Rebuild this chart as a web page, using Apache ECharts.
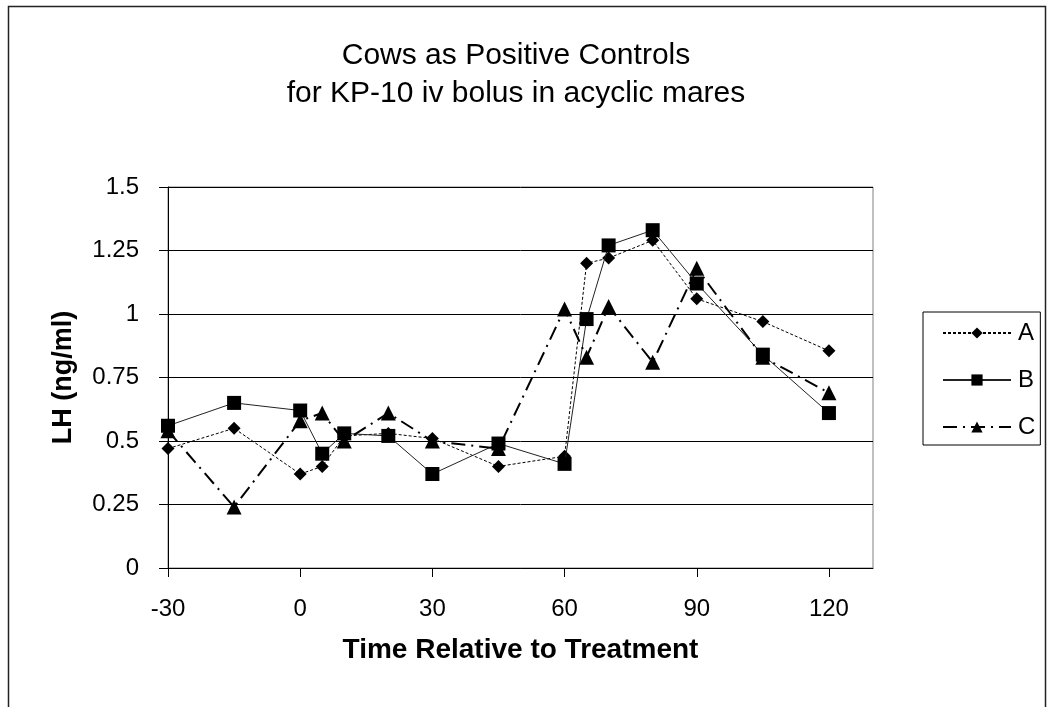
<!DOCTYPE html>
<html>
<head>
<meta charset="utf-8">
<script src="https://cdn.jsdelivr.net/npm/echarts@6/dist/echarts.min.js"></script>
<style>
html,body{margin:0;padding:0;background:#fff;}
#chart{width:1054px;height:707px;}
</style>
</head>
<body>
<div id="chart"></div>
<script>
var times = [-30, -15, 0, 5, 10, 20, 30, 45, 60, 65, 70, 80, 90, 105, 120];
var seriesA = [0.47, 0.55, 0.37, 0.40, 0.52, 0.53, 0.51, 0.40, 0.44, 1.20, 1.22, 1.29, 1.06, 0.97, 0.855];
var seriesB = [0.56, 0.65, 0.62, 0.45, 0.53, 0.52, 0.37, 0.49, 0.41, 0.98, 1.27, 1.33, 1.12, 0.84, 0.61];
var seriesC = [0.54, 0.24, 0.58, 0.61, 0.50, 0.61, 0.50, 0.47, 1.02, 0.83, 1.03, 0.81, 1.18, 0.83, 0.69];
var xTicks = [-30, 0, 30, 60, 90, 120];
var seriesNames = ['A', 'B', 'C'];

function pairs(vals) {
  return times.map(function (t, i) { return [t, vals[i]]; });
}

var chart = echarts.init(document.getElementById('chart'));
var font = '"Liberation Sans", Arial, sans-serif';
chart.setOption({
  animation: false,
  backgroundColor: '#fff',
  textStyle: { fontFamily: font, color: '#000' },
  graphic: [{
    type: 'rect', shape: { x: 8.5, y: 6.5, width: 1037, height: 720 },
    style: { fill: 'none', stroke: '#222', lineWidth: 1.5 }, silent: true
  }],
  title: {
    text: 'Cows as Positive Controls\nfor KP-10 iv bolus in acyclic mares',
    left: 511, top: 32, textAlign: 'center',
    textStyle: { fontFamily: font, fontSize: 30, fontWeight: 'normal', color: '#000', lineHeight: 38 }
  },
  legend: {
    orient: 'vertical',
    left: 923, top: 312,
    padding: [9, 5, 6, 19],
    itemGap: 23,
    itemWidth: 68, itemHeight: 14,
    borderColor: '#000', borderWidth: 1,
    textStyle: { fontFamily: font, fontSize: 24, color: '#000', lineHeight: 24, padding: [0, 0, 0, 2] },
    data: seriesNames
  },
  grid: {
    left: 168, top: 187, right: 181, bottom: 139,
    show: true, borderColor: '#808080', borderWidth: 1
  },
  xAxis: {
    type: 'value', min: -30, max: 130,
    name: 'Time Relative to Treatment', nameLocation: 'middle', nameGap: 68,
    nameTextStyle: { fontFamily: font, fontSize: 28, fontWeight: 'bold', color: '#000' },
    axisLine: { onZero: false, lineStyle: { color: '#000', width: 1 } },
    axisTick: { show: true, length: 9, lineStyle: { color: '#000' }, customValues: xTicks },
    axisLabel: { fontFamily: font, fontSize: 24, color: '#000', margin: 29, customValues: xTicks },
    splitLine: { show: false }
  },
  yAxis: {
    type: 'value', min: 0, max: 1.5, interval: 0.25,
    name: 'LH (ng/ml)', nameLocation: 'middle', nameGap: 91, nameRotate: 90,
    nameTextStyle: { fontFamily: font, fontSize: 27, fontWeight: 'bold', color: '#000' },
    axisLine: { show: true, onZero: false, lineStyle: { color: '#000', width: 1 } },
    axisTick: { show: true, length: 9, lineStyle: { color: '#000' } },
    axisLabel: { fontFamily: font, fontSize: 24, color: '#000', margin: 29 },
    splitLine: { show: true, lineStyle: { color: '#000', width: 1 } }
  },
  series: [
    {
      name: 'A', type: 'line', data: pairs(seriesA), z: 2,
      symbol: 'diamond', symbolSize: 13,
      itemStyle: { color: '#000' },
      lineStyle: { color: '#000', width: 1, type: [3, 2] }
    },
    {
      name: 'B', type: 'line', data: pairs(seriesB), z: 3,
      symbol: 'rect', symbolSize: 14,
      itemStyle: { color: '#000' },
      lineStyle: { color: '#222', width: 1, type: 'solid' }
    },
    {
      name: 'C', type: 'line', data: pairs(seriesC), z: 4,
      symbol: 'triangle', symbolSize: 15,
      itemStyle: { color: '#000' },
      lineStyle: { color: '#000', width: 2, type: [14, 6, 2, 6] }
    }
  ]
});
</script>
</body>
</html>
